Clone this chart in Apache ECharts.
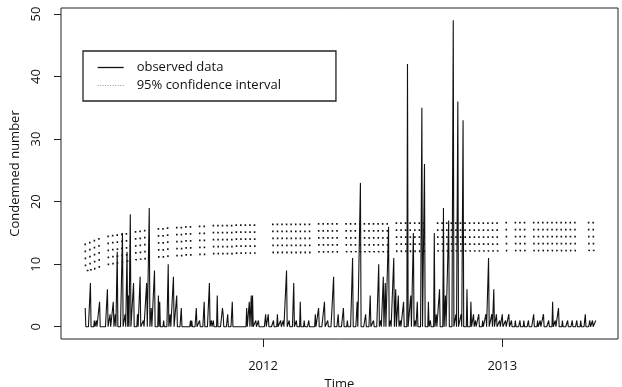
<!DOCTYPE html>
<html>
<head>
<meta charset="utf-8">
<script src="https://cdn.jsdelivr.net/npm/echarts@6/dist/echarts.min.js"></script>
<style>
html, body { margin: 0; padding: 0; background: #fff; }
#chart { width: 622px; height: 387px; }
</style>
</head>
<body>
<div id="chart"></div>
<script>
// observed data: day number counted from the first day, and its value
var firstDay = [2011, 3, 4];
var lastDay = 781;
var obsDays = [0, 8, 14, 17, 22, 34, 38, 43, 46, 49, 57, 61, 64, 66, 69, 74, 80, 84, 89, 94,
  98, 101, 106, 112, 114, 120, 127, 130, 135, 140, 147, 161, 163, 170, 175, 182, 190, 193, 196, 202,
  210, 211, 218, 225, 247, 251, 254, 256, 261, 265, 276, 280, 288, 294, 299, 303, 308, 312, 319, 323,
  329, 335, 342, 352, 357, 366, 371, 380, 387, 395, 401, 409, 416, 421, 429, 436, 441, 449, 452, 456,
  459, 464, 467, 472, 475, 479, 482, 487, 493, 498, 502, 505, 508, 515, 519, 525, 528, 534, 537, 542,
  548, 551, 556, 563, 567, 570, 575, 578, 584, 590, 594, 597, 602, 608, 613, 617, 622, 625, 629, 634,
  638, 643, 648, 652, 658, 665, 671, 678, 686, 692, 696, 701, 709, 715, 719, 724, 730, 738, 745, 752,
  758, 765, 772, 776, 781];
var obsValues = [3, 7, 1, 1, 4, 6, 2, 4, 2, 12, 15, 2, 12, 5, 18, 7, 2, 8, 1, 7,
  19, 3, 9, 5, 4, 1, 10, 2, 8, 5, 3, 1, 1, 3, 1, 4, 7, 1, 1, 5,
  3, 2, 2, 4, 3, 4, 5, 5, 1, 1, 2, 2, 1, 2, 1, 1, 9, 1, 7, 1,
  4, 1, 1, 2, 3, 4, 1, 8, 2, 3, 1, 11, 4, 23, 2, 5, 1, 10, 1, 8,
  7, 16, 1, 11, 6, 5, 1, 4, 42, 5, 15, 1, 4, 35, 26, 4, 1, 15, 2, 6,
  19, 5, 17, 49, 2, 36, 2, 33, 6, 4, 2, 1, 2, 1, 2, 11, 2, 6, 2, 1,
  2, 1, 2, 1, 1, 1, 1, 1, 2, 1, 1, 2, 1, 4, 1, 3, 1, 1, 1, 1,
  1, 2, 1, 1, 1];

// 95% confidence interval, one peak per week (week number from the first day)
var ciWeeks = [0, 1, 2, 3,
  5, 6, 7, 8, 9,
  11, 12, 13,
  16, 17, 18,
  20, 21, 22, 23,
  25, 26,
  28, 29, 30, 31, 32, 33, 34, 35, 36, 37,
  41, 42, 43, 44, 45, 46, 47, 48, 49,
  51, 52, 53, 54, 55,
  57, 58, 59, 60, 61, 62, 63, 64, 65, 66,
  68, 69, 70, 71, 72, 73, 74,
  77, 78, 79, 80, 81, 82, 83, 84, 85, 86, 87, 88, 89, 90,
  92,
  94, 95, 96,
  98, 99, 100, 101, 102, 103, 104, 105, 106, 107,
  110, 111];
var ciUpper = [13.3, 13.6, 13.9, 14.2,
  14.6, 14.7, 14.8, 14.9, 15.0,
  15.3, 15.4, 15.5,
  15.8, 15.8, 15.9,
  16.0, 16.0, 16.1, 16.1,
  16.2, 16.2,
  16.3, 16.3, 16.3, 16.3, 16.3, 16.4, 16.4, 16.4, 16.4, 16.4,
  16.5, 16.5, 16.5, 16.5, 16.5, 16.5, 16.5, 16.5, 16.5,
  16.6, 16.6, 16.6, 16.6, 16.6,
  16.6, 16.6, 16.6, 16.6, 16.6, 16.6, 16.6, 16.6, 16.6, 16.6,
  16.7, 16.7, 16.7, 16.7, 16.7, 16.7, 16.7,
  16.7, 16.7, 16.7, 16.7, 16.7, 16.7, 16.7, 16.7, 16.7, 16.7, 16.7, 16.7, 16.7, 16.7,
  16.8,
  16.8, 16.8, 16.8,
  16.8, 16.8, 16.8, 16.8, 16.8, 16.8, 16.8, 16.8, 16.8, 16.8,
  16.8, 16.8];
var ciLower = [9.0, 9.1, 9.2, 9.3,
  9.7, 9.9, 10.1, 10.3, 10.5,
  10.7, 10.8, 10.8,
  11.0, 11.0, 11.1,
  11.1, 11.2, 11.2, 11.3,
  11.3, 11.4,
  11.4, 11.5, 11.5, 11.5, 11.6, 11.6, 11.6, 11.7, 11.7, 11.7,
  11.8, 11.8, 11.8, 11.8, 11.8, 11.8, 11.8, 11.8, 11.8,
  11.9, 11.9, 11.9, 11.9, 11.9,
  12.0, 12.0, 12.0, 12.0, 12.0, 12.0, 12.0, 12.0, 12.0, 12.0,
  12.0, 12.0, 12.0, 12.0, 12.0, 12.0, 12.0,
  12.1, 12.1, 12.1, 12.1, 12.1, 12.1, 12.1, 12.1, 12.1, 12.1, 12.1, 12.1, 12.1, 12.1,
  12.1,
  12.1, 12.1, 12.1,
  12.1, 12.1, 12.1, 12.1, 12.1, 12.1, 12.1, 12.1, 12.1, 12.1,
  12.2, 12.2];

var xTickYears = [2012, 2013];
var yTicks = [0, 10, 20, 30, 40, 50];

var DAY = 86400000;
var t0 = Date.UTC(firstDay[0], firstDay[1], firstDay[2]);
function dayTime(d) { return t0 + d * DAY; }

// daily observed line, zero on the days with no value
var obsByDay = [];
for (var d = 0; d <= lastDay; d++) obsByDay.push(0);
for (var i = 0; i < obsDays.length; i++) obsByDay[obsDays[i]] = obsValues[i];
var obsData = obsByDay.map(function (v, d) { return [dayTime(d), v]; });

// dotted interval line: each week starts a new piece at its peak
var ciData = [];
for (var j = 0; j < ciWeeks.length; j++) {
  var day = ciWeeks[j] * 7;
  ciData.push([dayTime(day), ciUpper[j]]);
  ciData.push([dayTime(day + 0.6), ciLower[j]]);
  ciData.push([dayTime(day + 6.9), ciLower[j]]);
  ciData.push([dayTime(day + 6.95), null]);
}

var yearTicks = xTickYears.map(function (y) { return Date.UTC(y, 0, 1); });

var font = 'Open Sans';
var chart = echarts.init(document.getElementById('chart'));
chart.setOption({
  animation: false,
  backgroundColor: '#fff',
  textStyle: { fontFamily: font },
  grid: {
    left: 61, right: 4, top: 8, bottom: 48,
    outerBoundsMode: 'none',
    show: true, borderColor: '#222', borderWidth: 1
  },
  legend: {
    orient: 'vertical',
    left: 83, top: 51,
    padding: [10, 55, 9, 14],
    borderColor: '#222', borderWidth: 1.3,
    itemWidth: 26, itemHeight: 14, itemGap: 5,
    textStyle: { fontFamily: font, fontSize: 13, color: '#111', padding: [0, 0, 0, 8] },
    data: [
      { name: 'observed data', itemStyle: { opacity: 0 }, lineStyle: { color: '#111', width: 1.3 } },
      { name: '95% confidence interval', itemStyle: { opacity: 0 }, lineStyle: { color: '#999', width: 1, type: [1, 1.5] } }
    ]
  },
  xAxis: {
    type: 'value',
    min: Date.UTC(2011, 1, 26),
    max: Date.UTC(2013, 5, 27),
    name: 'Time',
    nameLocation: 'middle',
    nameGap: 36,
    nameTextStyle: { fontFamily: font, fontSize: 13, color: '#111' },
    axisLine: { show: false, onZero: false },
    splitLine: { show: false },
    axisTick: {
      show: true, length: 8, inside: false,
      lineStyle: { color: '#222' },
      customValues: yearTicks
    },
    axisLabel: {
      fontFamily: font, fontSize: 13, color: '#111', margin: 21,
      customValues: yearTicks,
      formatter: function (v) { return String(new Date(v).getUTCFullYear()); }
    }
  },
  yAxis: {
    type: 'value',
    min: -1.96, max: 50.96,
    name: 'Condemned number',
    nameLocation: 'middle',
    nameGap: 31,
    nameTextStyle: { fontFamily: font, fontSize: 13, color: '#111' },
    axisLine: { show: false, onZero: false },
    splitLine: { show: false },
    axisTick: {
      show: true, length: 7, inside: false,
      lineStyle: { color: '#222' },
      customValues: yTicks
    },
    axisLabel: {
      fontFamily: font, fontSize: 13, color: '#111', margin: 18, rotate: 90,
      customValues: yTicks
    }
  },
  series: [
    {
      name: 'observed data',
      type: 'line',
      data: obsData,
      symbol: 'none',
      showSymbol: false,
      itemStyle: { color: '#111' },
      lineStyle: { color: '#111', width: 1.1 }
    },
    {
      name: '95% confidence interval',
      type: 'line',
      data: ciData,
      symbol: 'none',
      showSymbol: false,
      connectNulls: false,
      itemStyle: { color: '#111' },
      lineStyle: { color: '#111', width: 1.6, type: [1.8, 5.2] }
    }
  ]
});
</script>
</body>
</html>
